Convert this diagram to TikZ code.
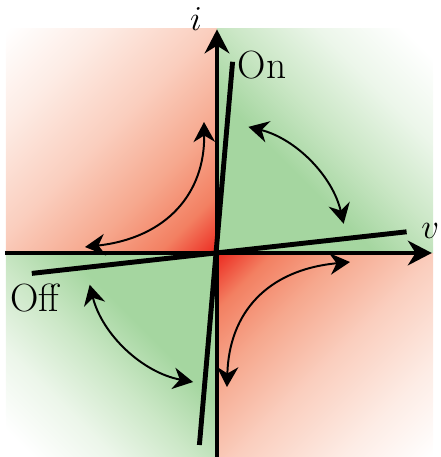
\documentclass[tikz,border=0pt]{standalone}
\usepackage{tikz}
\usetikzlibrary{arrows.meta}

\definecolor{onred}{RGB}{236,42,32}
\definecolor{red1}{RGB}{243,128,98}
\definecolor{red2}{RGB}{246,168,142}
\definecolor{red3}{RGB}{250,206,190}
\definecolor{red4}{RGB}{253,236,229}
\definecolor{ongreen}{RGB}{165,214,160}
\definecolor{green1}{RGB}{203,231,198}
\definecolor{green2}{RGB}{236,246,234}
\pgfdeclarehorizontalshading{redquad}{100bp}{color(0bp)=(onred); color(14.6bp)=(onred);
  color(24bp)=(red1); color(36bp)=(red2); color(52bp)=(red3);
  color(70bp)=(red4); color(85.4bp)=(white); color(100bp)=(white)}
\pgfdeclarehorizontalshading{greenquad}{100bp}{color(0bp)=(ongreen); color(14.6bp)=(ongreen);
  color(40bp)=(ongreen); color(53bp)=(green1); color(67bp)=(green2);
  color(81bp)=(white); color(100bp)=(white)}

\begin{document}
\begin{tikzpicture}[font=\fontsize{28}{32}\selectfont,
  axis/.style={-{Stealth[length=6mm,width=6.2mm]}, line width=2.3pt},
  swing/.style={{Stealth[length=5mm,width=5.4mm]}-{Stealth[length=5mm,width=5.4mm]}, line width=1.4pt},
  state/.style={line width=3.5pt}]
\useasboundingbox (-5.425,-5.1) rectangle (5.6,6.325);
\shade[shading=redquad, shading angle=135] (0,0) rectangle (-5.275,5.6);
\shade[shading=greenquad, shading angle=45] (0,0) rectangle (5.4,5.6);
\shade[shading=greenquad, shading angle=225] (0,0) rectangle (-5.275,-5.1);
\shade[shading=redquad, shading angle=-45] (0,0) rectangle (5.4,-5.1);
\coordinate (O) at (0,0);
\draw[axis] (-5.3,0) -- (5.37,0);
\draw[axis] (0,-5.1) -- (0,5.59);
\node (ilab) at (-0.525,5.85) {$i$};
\node (vlab) at (5.33,0.55) {$v$};
\draw[state] (-0.44,-4.8) -- (0.39,4.78);
\draw[state] (-4.63,-0.51) -- (4.74,0.53);
\node (onlab) at (1.125,4.7) {On};
\node (offlab) at (-4.55,-1.125) {Off};
\draw[swing] (-3.3,0.15) .. controls (-1.25,0.38) and (-0.3,1.5) .. (-0.325,3.275);
\draw[swing] (3.325,-0.225) .. controls (1.25,-0.42) and (0.3,-1.5) .. (0.25,-3.35);
\draw[swing] (76:3.25) arc[start angle=76, end angle=13, radius=3.25];
\draw[swing] (194:3.28) arc[start angle=194, end angle=259.5, radius=3.28];
\end{tikzpicture}
\end{document}
